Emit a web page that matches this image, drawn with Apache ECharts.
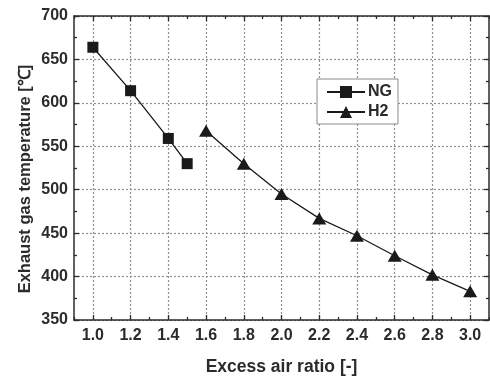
<!DOCTYPE html>
<html>
<head>
<meta charset="utf-8">
<script src="https://cdn.jsdelivr.net/npm/echarts@6/dist/echarts.min.js"></script>
<style>
  html, body { margin: 0; padding: 0; background: #fff; }
  #chart { width: 490px; height: 379px; }
</style>
</head>
<body>
<div id="chart"></div>
<script>
// Exhaust gas temperature vs. excess air ratio for natural gas and hydrogen
const ngRatio = [1.0, 1.2, 1.4, 1.5];
const ngTemp  = [664, 614, 559, 530];
const h2Ratio = [1.6, 1.8, 2.0, 2.2, 2.4, 2.6, 2.8, 3.0];
const h2Temp  = [568, 530, 495, 467, 447, 424, 402, 383];
const xTickLabels = [1.0, 1.2, 1.4, 1.6, 1.8, 2.0, 2.2, 2.4, 2.6, 2.8, 3.0];
const yTitle = 'Exhaust gas temperature [℃]';
const xTitle = 'Excess air ratio [-]';

const FONT = '"Liberation Sans", Arial, sans-serif';
const INK = '#2b2b2b';
const GRID = { color: '#8f8f8f', type: [2, 2], width: 1.2 };

const pairs = (xs, ys) => xs.map((x, i) => [x, ys[i]]);

const xBase = {
  type: 'value', min: 0.9, max: 3.1, interval: 0.2,
  axisLine: { show: true, onZero: false, lineStyle: { color: INK, width: 1.5 } },
  axisTick: { show: true, inside: true, length: 3, lineStyle: { color: INK, width: 1.3 } },
  minorTick: { show: true, splitNumber: 2, length: 5, lineStyle: { color: INK, width: 1.3 } },
  splitLine: { show: false }
};
const yBase = {
  type: 'value', min: 350, max: 700, interval: 50,
  axisLine: { show: true, onZero: false, lineStyle: { color: INK, width: 1.5 } },
  axisTick: { show: true, inside: true, length: 5, lineStyle: { color: INK, width: 1.3 } },
  minorTick: { show: true, splitNumber: 2, length: 3, lineStyle: { color: INK, width: 1.3 } }
};

const chart = echarts.init(document.getElementById('chart'), null, { renderer: 'canvas' });
chart.setOption({
  backgroundColor: '#fff',
  animation: false,
  grid: { left: 74, right: 1, top: 16, bottom: 59, outerBoundsMode: 'none' },
  // rotated y-axis title, placed beside the tick labels
  graphic: [{
    type: 'text',
    x: 25, y: 179,
    rotation: Math.PI / 2,
    style: {
      text: yTitle,
      fontFamily: FONT, fontWeight: 'bold', fontSize: 16.5, fill: INK,
      align: 'center', verticalAlign: 'middle'
    }
  }],
  legend: {
    left: 317, top: 79, orient: 'vertical',
    padding: [5, 6, 4, 9],
    itemWidth: 38, itemHeight: 15, itemGap: 4,
    borderColor: '#8a8a8a', borderWidth: 1, backgroundColor: '#fff',
    textStyle: { fontFamily: FONT, fontWeight: 'bold', fontSize: 16, color: INK, padding: [0, 4, 0, -2] },
    data: ['NG', 'H2']
  },
  xAxis: [
    Object.assign({}, xBase, {
      position: 'bottom',
      name: xTitle, nameLocation: 'middle', nameGap: 38,
      nameTextStyle: { fontFamily: FONT, fontWeight: 'bold', fontSize: 17.5, color: INK },
      axisLabel: {
        show: true, customValues: xTickLabels, margin: 8,
        formatter: v => Number(v).toFixed(1),
        fontFamily: FONT, fontWeight: 'bold', fontSize: 16, color: INK
      },
      minorSplitLine: { show: true, lineStyle: GRID }
    }),
    Object.assign({}, xBase, {
      position: 'top',
      axisLabel: { show: false },
      minorSplitLine: { show: false }
    })
  ],
  yAxis: [
    Object.assign({}, yBase, {
      position: 'left',
      axisLabel: {
        show: true, margin: 6,
        formatter: v => String(v),
        fontFamily: FONT, fontWeight: 'bold', fontSize: 16, color: INK
      },
      splitLine: { show: true, lineStyle: GRID }
    }),
    Object.assign({}, yBase, {
      position: 'right',
      axisLabel: { show: false },
      splitLine: { show: false }
    })
  ],
  series: [
    {
      name: 'NG', type: 'line', xAxisIndex: 0, yAxisIndex: 0,
      data: pairs(ngRatio, ngTemp),
      symbol: 'rect', symbolSize: 11,
      lineStyle: { color: '#1a1a1a', width: 1.3 },
      itemStyle: { color: '#1a1a1a' }
    },
    {
      name: 'H2', type: 'line', xAxisIndex: 0, yAxisIndex: 0,
      data: pairs(h2Ratio, h2Temp),
      symbol: 'triangle', symbolSize: [14, 12],
      lineStyle: { color: '#1a1a1a', width: 1.3 },
      itemStyle: { color: '#1a1a1a' }
    }
  ]
});
</script>
</body>
</html>
